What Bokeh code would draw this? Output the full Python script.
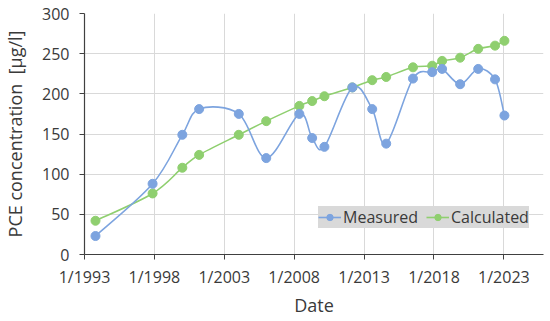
import numpy as np
import pandas as pd
from bokeh.plotting import figure
from bokeh.models import (FixedTicker, DatetimeTickFormatter, Range1d, Legend, LegendItem,
                          ColumnDataSource)
from bokeh.embed import file_html
from bokeh.resources import INLINE

# ---------------- data ----------------
dates = ["1993-10-15", "1997-11-15", "2000-01-01", "2001-03-15", "2004-01-15",
         "2006-01-01", "2008-05-15", "2009-04-15", "2010-03-01", "2012-03-01",
         "2013-08-01", "2014-08-01", "2016-07-01", "2017-11-15", "2018-08-01",
         "2019-11-15", "2021-03-01", "2022-05-15", "2023-01-15"]
measured = [23, 88, 149, 181, 175, 120, 175, 145, 134, 208,
            181, 138, 219, 227, 231, 212, 231, 218, 173]
calculated = [42, 76, 108, 124, 149, 166, 185, 191, 197, 208,
              217, 221, 233, 235, 241, 245, 256, 260, 266]
tick_years = [1993, 1998, 2003, 2008, 2013, 2018, 2023]
y_ticks = [0, 50, 100, 150, 200, 250, 300]

FONT = "Open Sans"
TXT = "#3a3a3a"
BLUE = "#7da4df"
GREEN = "#8fcf6f"

def to_ms(s):
    return pd.Timestamp(s).value / 1e6

xs = np.array([to_ms(d) for d in dates])

def smooth_segments(x, y, t=1.0 / 6.0):
    x = np.asarray(x, float)
    y = np.asarray(y, float)
    n = len(x)
    xp = np.concatenate([[x[0]], x, [x[-1]]])
    yp = np.concatenate([[y[0]], y, [y[-1]]])
    x0, y0 = x[:-1], y[:-1]
    x1, y1 = x[1:], y[1:]
    cx0 = x0 + (xp[2:n + 1] - xp[0:n - 1]) * t
    cy0 = y0 + (yp[2:n + 1] - yp[0:n - 1]) * t
    cx1 = x1 - (xp[3:n + 2] - xp[1:n]) * t
    cy1 = y1 - (yp[3:n + 2] - yp[1:n]) * t
    return dict(x0=x0, y0=y0, x1=x1, y1=y1, cx0=cx0, cy0=cy0, cx1=cx1, cy1=cy1)

p = figure(width=550, height=321, output_backend="svg", toolbar_location=None,
           x_axis_type="datetime",
           x_range=Range1d(to_ms("1993-01-01"), to_ms("2025-11-01")),
           y_range=Range1d(0, 300),
           min_border_left=82, min_border_right=7, min_border_top=13, min_border_bottom=67)
p.outline_line_color = None
p.background_fill_color = "white"
p.border_fill_color = "white"

seg_m = ColumnDataSource(smooth_segments(xs, measured))
seg_c = ColumnDataSource(smooth_segments(xs, calculated))

rc_line = p.bezier(x0="x0", y0="y0", x1="x1", y1="y1", cx0="cx0", cy0="cy0",
                   cx1="cx1", cy1="cy1", source=seg_c, line_color=GREEN, line_width=1.6)
rm_line = p.bezier(x0="x0", y0="y0", x1="x1", y1="y1", cx0="cx0", cy0="cy0",
                   cx1="cx1", cy1="cy1", source=seg_m, line_color=BLUE, line_width=1.6)
rc_pts = p.scatter(xs, calculated, size=9, fill_color=GREEN, line_color=GREEN)
rm_pts = p.scatter(xs, measured, size=9, fill_color=BLUE, line_color=BLUE)

# axes
p.xaxis.ticker = FixedTicker(ticks=[to_ms(f"{y}-01-01") for y in tick_years])
p.xaxis.formatter = DatetimeTickFormatter(years="%-m/%Y", months="%-m/%Y", days="%-m/%Y")
p.yaxis.ticker = FixedTicker(ticks=y_ticks)
for ax in (p.xaxis, p.yaxis):
    ax.major_label_text_font = FONT
    ax.major_label_text_font_size = "16px"
    ax.major_label_text_color = TXT
    ax.axis_label_text_font = FONT
    ax.axis_label_text_font_size = "18px"
    ax.axis_label_text_font_style = "normal"
    ax.axis_label_text_color = TXT
    ax.axis_line_color = "#404040"
    ax.axis_line_width = 1.2
    ax.major_tick_line_color = "#404040"
    ax.major_tick_in = 0
    ax.major_tick_out = 5
    ax.minor_tick_line_color = None
p.xaxis.axis_label = "Date"
p.yaxis.axis_label = "PCE concentration \u00a0[µg/l]"
p.xaxis.major_label_standoff = 6
p.yaxis.major_label_standoff = 10
p.xaxis.axis_label_standoff = 2
p.yaxis.axis_label_standoff = 12

p.xgrid.ticker = p.xaxis.ticker
p.ygrid.ticker = p.yaxis.ticker
p.xgrid.grid_line_color = "#d9d9d9"
p.ygrid.grid_line_color = "#d9d9d9"

legend = Legend(items=[LegendItem(label="Measured", renderers=[rm_line, rm_pts]),
                       LegendItem(label="Calculated", renderers=[rc_line, rc_pts])],
                orientation="horizontal", location=(234, 26))
legend.background_fill_color = "#d9d9d9"
legend.background_fill_alpha = 1
legend.border_line_color = None
legend.label_text_font = FONT
legend.label_text_font_size = "16px"
legend.label_text_color = TXT
legend.glyph_width = 23
legend.glyph_height = 16
legend.label_standoff = 2
legend.spacing = 8
legend.padding = 5
legend.margin = 0
legend.label_height = 16
p.add_layout(legend, "center")

open("out.html", "w").write(file_html(p, INLINE))
